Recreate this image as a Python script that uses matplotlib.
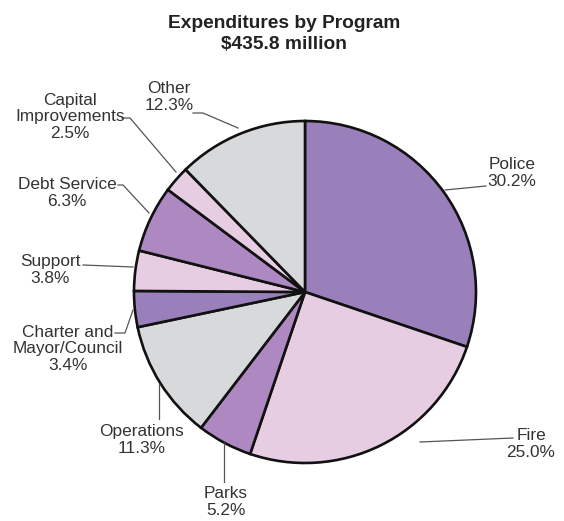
import matplotlib
matplotlib.use("Agg")
import matplotlib.pyplot as plt

plt.rcParams["font.family"] = ["Liberation Sans", "DejaVu Sans"]

# Program shares of total expenditures, clockwise from 12 o'clock
programs = ["Police", "Fire", "Parks", "Operations", "Charter and\nMayor/Council",
            "Support", "Debt Service", "Capital\nImprovements", "Other"]
shares = [30.2, 25.0, 5.2, 11.3, 3.4, 3.8, 6.3, 2.5, 12.3]
colors = ["#9a80ba", "#e6cde2", "#ae88c0", "#d8d9db", "#9a80ba",
          "#e6cde2", "#ae88c0", "#e6cde2", "#d8d9db"]

W, H = 564, 521
fig = plt.figure(figsize=(W / 100, H / 100), dpi=100)
ax = fig.add_axes([0, 0, 1, 1])

def py(y):
    # pixel row -> data y
    return H - y

cx, cy, r = 305, 292, 171
ax.pie(shares, colors=colors, startangle=90, counterclock=False,
       center=(cx, py(cy)), radius=r, frame=True,
       wedgeprops=dict(edgecolor="#111111", linewidth=1.9))
ax.set_xlim(0, W)
ax.set_ylim(0, H)
ax.set_aspect("equal")
ax.axis("off")

ax.text(284, py(34), "Expenditures by Program\n$435.8 million", ha="center", va="center",
        fontsize=13.8, fontweight="bold", color="#222222", linespacing=1.25)

txt = "#333333"
lc = "#555555"
# label text centre (pixel coords) and leader polyline
layout = [
    ((512, 173), [(486, 186), (445, 190)]),
    ((531, 444), [(513, 438), (420, 442)]),
    ((226, 502), [(224, 482), (224, 443)]),
    ((142, 440), [(159, 419), (159, 384)]),
    ((68, 349), [(115, 333), (125, 333), (133, 310)]),
    ((50, 270), [(83, 265), (133, 267)]),
    ((67, 193), [(118, 185), (123, 185), (149, 213)]),
    ((70, 117), [(122, 118), (130, 118), (176, 172)]),
    ((169, 97), [(193, 113), (203, 113), (238, 128)]),
]
for name, val, ((tx, ty), pts) in zip(programs, shares, layout):
    ax.text(tx, py(ty), f"{name}\n{val:.1f}%", ha="center", va="center",
            fontsize=12.4, color=txt, linespacing=1.12)
    ax.plot([p[0] for p in pts], [py(p[1]) for p in pts], color=lc, lw=0.9)

fig.savefig("out.png", dpi=100)
